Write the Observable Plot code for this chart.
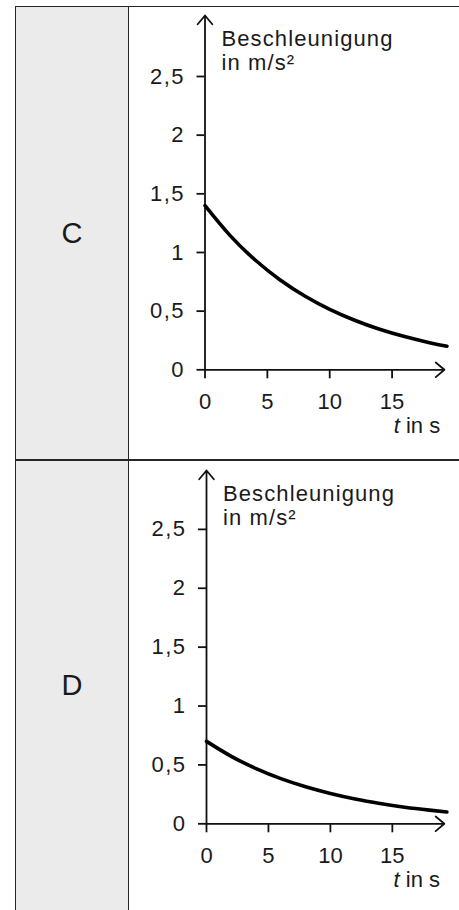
<!DOCTYPE html>
<html><head><meta charset="utf-8">
<script src="https://cdn.jsdelivr.net/npm/d3@7"></script>
<script src="https://cdn.jsdelivr.net/npm/@observablehq/plot@0.6"></script>
<style>
html,body{margin:0;padding:0;background:#fff;}
body{width:459px;height:910px;overflow:hidden;position:relative;font-family:"Liberation Sans",Arial,Helvetica,sans-serif;color:#1a1a1a;}
.abs{position:absolute;}
.line{position:absolute;background:#262626;}
.rowlabel{position:absolute;display:flex;align-items:center;justify-content:center;font-size:29px;color:#1a1a1a;}
</style></head><body>
<div class="abs" style="left:16px;top:7px;width:112px;height:903px;background:#ebebeb"></div>
<div class="line" style="left:15px;top:5.8px;width:444px;height:1.6px"></div>
<div class="line" style="left:14.8px;top:6px;width:1.6px;height:904px"></div>
<div class="line" style="left:127.6px;top:6px;width:1.6px;height:904px"></div>
<div class="line" style="left:15px;top:459.3px;width:444px;height:1.6px"></div>
<script>
// ---- data ----
const rowLabels = ["C", "D"];
const tValues = [0, 2, 4, 6, 8, 10, 12, 14, 16, 18, 19.4];
const accelC = [1.400, 1.146, 0.938, 0.768, 0.629, 0.515, 0.422, 0.345, 0.283, 0.231, 0.201];
const accelD = [0.700, 0.573, 0.469, 0.384, 0.315, 0.258, 0.211, 0.173, 0.141, 0.116, 0.100];
const yTicks = [0, 0.5, 1, 1.5, 2, 2.5];
const xTicks = [0, 5, 10, 15];
const yLabel = "Beschleunigung\nin m/s²";
const xLabel = "t in s";

const FONT = '"Liberation Sans", Arial, Helvetica, sans-serif';

function panel(values, label, cfg) {
  const data = tValues.map((t, i) => ({t, a: values[i]}));
  const chart = Plot.plot({
    width: 331,
    height: cfg.height,
    marginLeft: cfg.ml,
    marginRight: cfg.mr,
    marginTop: cfg.mt,
    marginBottom: cfg.mb,
    x: {domain: [0, 19.5]},
    y: {domain: [0, cfg.yMax]},
    style: {fontFamily: FONT, fontSize: "22px", color: "#1a1a1a", background: "transparent", overflow: "visible"},
    marks: [
      Plot.axisY(yTicks, {tickSize: 8, tickPadding: 12, strokeWidth: 1.8, stroke: "#111", tickFormat: d => String(d).replace(".", ","), label: null, fontSize: 22}),
      Plot.axisX(xTicks, {tickSize: 9, tickPadding: 15, strokeWidth: 1.8, stroke: "#111", label: null, fontSize: 22}),
      Plot.arrow([0], {x1: 0, y1: 0, x2: 19.2, y2: 0, stroke: "#111", strokeWidth: 1.8, headLength: 9.5, headAngle: 80}),
      Plot.arrow([0], {x1: 0, y1: 0, x2: 0, y2: cfg.yMax, stroke: "#111", strokeWidth: 1.8, headLength: 9.5, headAngle: 80}),
      Plot.line(data, {x: "t", y: "a", stroke: "#000", strokeWidth: 3.6, curve: "natural"}),
      Plot.text([yLabel], {frameAnchor: "top-left", text: d => d, textAnchor: "start", lineAnchor: "top", dx: 16.5, dy: 14, fontSize: 22, lineHeight: 1.07, fill: "#1a1a1a"}),
      Plot.text([xLabel], {frameAnchor: "bottom-right", text: d => d, textAnchor: "end", lineAnchor: "bottom", dx: -8, dy: 63, fontSize: 22, fill: "#1a1a1a"})
    ]
  });
  const svg = d3.select(chart);
  svg.selectAll("text").each(function () {
    if (this.textContent === xLabel) {
      const el = d3.select(this);
      el.text(null);
      el.append("tspan").attr("font-style", "italic").text("t");
      el.append("tspan").text(" in s");
    } else if (this.textContent.startsWith("Beschleunigung")) {
      this.style.letterSpacing = "1.1px";
    }
  });
  svg.selectAll('[aria-label="y-axis tick label"] text').style("letter-spacing", "1.5px");
  chart.style.position = "absolute";
  chart.style.left = cfg.left + "px";
  chart.style.top = cfg.top + "px";
  document.body.appendChild(chart);

  const lab = document.createElement("div");
  lab.className = "rowlabel";
  lab.style.left = "16px";
  lab.style.width = "112px";
  lab.style.top = cfg.labelTop + "px";
  lab.style.height = cfg.labelH + "px";
  lab.textContent = label;
  document.body.appendChild(lab);
}

panel(accelC, rowLabels[0], {left: 128, top: 6, height: 454, ml: 76.5, mr: 11.3, mt: 9, mb: 90.7, yMax: 3.02, labelTop: 7, labelH: 453});
panel(accelD, rowLabels[1], {left: 128, top: 460, height: 450, ml: 78, mr: 11.4, mt: 10, mb: 86.7, yMax: 3.0, labelTop: 461, labelH: 449});
</script>
</body></html>
